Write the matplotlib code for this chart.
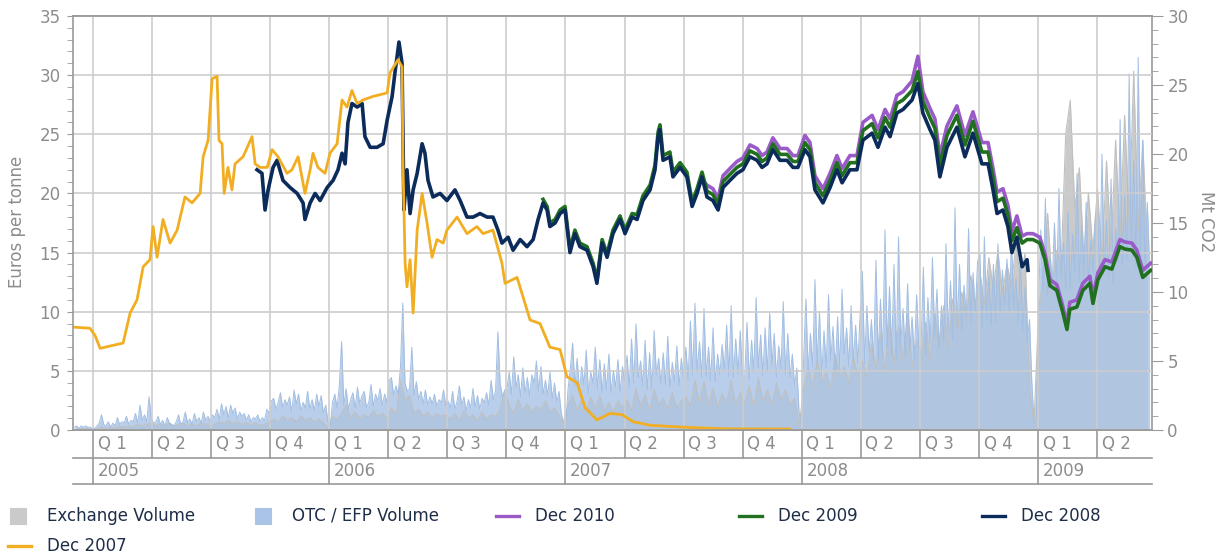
import matplotlib
matplotlib.use("Agg")
import matplotlib.pyplot as plt
from matplotlib.lines import Line2D
from matplotlib.patches import Rectangle
from matplotlib.ticker import MultipleLocator
import numpy as np
import pandas as pd

# ---- price curves: (time in decimal years, Euros per tonne) ----
dec2007 = [(2004.915, 8.7), (2004.987, 8.6), (2005.008, 8.0), (2005.030, 6.9), (2005.072, 7.1),
           (2005.127, 7.35), (2005.157, 9.9), (2005.186, 11.0), (2005.212, 13.8), (2005.241, 14.4),
           (2005.254, 17.2), (2005.271, 14.6), (2005.296, 17.8), (2005.326, 15.8), (2005.356, 16.9),
           (2005.389, 19.7), (2005.419, 19.2), (2005.453, 20.0), (2005.466, 23.1), (2005.487, 24.5),
           (2005.504, 29.7), (2005.525, 29.9), (2005.533, 24.5), (2005.546, 24.2), (2005.555, 20.0),
           (2005.571, 22.2), (2005.588, 20.3), (2005.601, 22.5), (2005.635, 23.1), (2005.673, 24.8),
           (2005.686, 22.5), (2005.707, 22.2), (2005.737, 22.2), (2005.758, 23.7), (2005.783, 23.1),
           (2005.821, 21.7), (2005.842, 22.0), (2005.868, 23.1), (2005.897, 20.0), (2005.919, 22.0),
           (2005.931, 23.4), (2005.952, 22.2), (2005.982, 21.7), (2006.003, 23.4), (2006.033, 24.2),
           (2006.054, 27.9), (2006.075, 27.3), (2006.096, 28.7), (2006.118, 27.6), (2006.143, 27.9),
           (2006.185, 28.2), (2006.245, 28.5), (2006.257, 30.2), (2006.291, 31.3), (2006.308, 30.7),
           (2006.312, 22.5), (2006.321, 14.1), (2006.329, 12.1), (2006.342, 14.4), (2006.355, 9.9),
           (2006.372, 16.9), (2006.393, 20.0), (2006.414, 17.5), (2006.435, 14.6), (2006.456, 16.1),
           (2006.482, 15.8), (2006.498, 16.9), (2006.541, 18.0), (2006.583, 16.6), (2006.625, 17.2),
           (2006.651, 16.6), (2006.693, 16.9), (2006.731, 14.1), (2006.744, 12.4), (2006.795, 12.9),
           (2006.850, 9.3), (2006.892, 9.0), (2006.934, 7.0), (2006.977, 6.8), (2007.006, 4.5),
           (2007.049, 4.0), (2007.083, 1.9), (2007.133, 0.85), (2007.188, 1.4), (2007.239, 1.3),
           (2007.286, 0.7), (2007.358, 0.4), (2007.442, 0.3), (2007.540, 0.2), (2007.684, 0.1),
           (2007.950, 0.08)]

dec2008 = [(2005.694, 22.0), (2005.715, 21.7), (2005.728, 18.6), (2005.741, 20.3), (2005.762, 22.2),
           (2005.779, 22.8), (2005.804, 21.1), (2005.834, 20.5), (2005.864, 20.0), (2005.889, 19.2),
           (2005.897, 17.8), (2005.919, 19.2), (2005.940, 20.0), (2005.961, 19.4), (2005.991, 20.5),
           (2006.016, 21.1), (2006.037, 22.0), (2006.054, 23.4), (2006.067, 22.5), (2006.079, 26.0),
           (2006.096, 27.6), (2006.118, 27.3), (2006.139, 27.6), (2006.151, 24.8), (2006.173, 23.9),
           (2006.202, 23.9), (2006.228, 24.2), (2006.245, 26.2), (2006.266, 28.2), (2006.278, 30.2),
           (2006.295, 32.8), (2006.308, 31.0), (2006.316, 18.6), (2006.329, 22.0), (2006.342, 18.3),
           (2006.355, 20.3), (2006.372, 21.7), (2006.393, 24.2), (2006.405, 23.4), (2006.418, 21.1),
           (2006.439, 19.7), (2006.469, 20.0), (2006.498, 19.4), (2006.532, 20.3), (2006.554, 19.4),
           (2006.583, 18.0), (2006.609, 18.0), (2006.638, 18.3), (2006.668, 18.0), (2006.693, 18.0),
           (2006.714, 16.9), (2006.731, 15.8), (2006.757, 16.3), (2006.778, 15.2), (2006.808, 16.1),
           (2006.837, 15.5), (2006.863, 16.1), (2006.884, 17.8), (2006.905, 19.2), (2006.922, 18.6),
           (2006.934, 17.2), (2006.956, 17.5), (2006.977, 18.3), (2006.998, 18.6), (2007.019, 15.0),
           (2007.040, 16.6), (2007.061, 15.5), (2007.091, 15.2), (2007.117, 13.8), (2007.133, 12.4),
           (2007.155, 15.8), (2007.176, 14.6), (2007.201, 16.6), (2007.231, 17.8), (2007.252, 16.6),
           (2007.282, 18.0), (2007.303, 17.8), (2007.328, 19.4), (2007.358, 20.3), (2007.379, 22.0),
           (2007.392, 24.8), (2007.400, 25.4), (2007.413, 22.8), (2007.442, 23.1), (2007.455, 21.4),
           (2007.485, 22.2), (2007.514, 21.4), (2007.536, 18.9), (2007.557, 20.0), (2007.578, 21.4),
           (2007.599, 19.7), (2007.624, 19.4), (2007.646, 18.6), (2007.667, 20.5), (2007.696, 21.1),
           (2007.726, 21.7), (2007.751, 22.0), (2007.781, 23.1), (2007.811, 22.8), (2007.832, 22.2),
           (2007.853, 22.5), (2007.878, 23.7), (2007.908, 22.8), (2007.938, 22.8), (2007.963, 22.2),
           (2007.984, 22.2), (2008.014, 23.7), (2008.035, 23.1), (2008.056, 20.3), (2008.090, 19.2),
           (2008.120, 20.5), (2008.149, 22.0), (2008.171, 20.9), (2008.204, 22.0), (2008.234, 22.0),
           (2008.259, 24.5), (2008.298, 25.1), (2008.323, 23.9), (2008.353, 25.6), (2008.374, 24.8),
           (2008.403, 26.8), (2008.429, 27.1), (2008.467, 27.9), (2008.492, 29.3), (2008.513, 26.8),
           (2008.543, 25.4), (2008.564, 24.5), (2008.585, 21.4), (2008.615, 23.9), (2008.657, 25.6),
           (2008.691, 23.1), (2008.725, 25.1), (2008.763, 22.5), (2008.789, 22.5), (2008.810, 20.3),
           (2008.827, 18.3), (2008.852, 18.6), (2008.873, 17.2), (2008.890, 15.0), (2008.911, 16.3),
           (2008.933, 13.8), (2008.954, 14.4), (2008.958, 13.5)]

dec2009 = [(2006.905, 19.5), (2006.922, 18.9), (2006.934, 17.5), (2006.956, 17.8), (2006.977, 18.6),
           (2006.998, 18.9), (2007.019, 15.3), (2007.040, 16.9), (2007.061, 15.8), (2007.091, 15.5),
           (2007.117, 14.1), (2007.133, 12.7), (2007.155, 16.1), (2007.176, 14.9), (2007.201, 16.9),
           (2007.231, 18.1), (2007.252, 16.9), (2007.282, 18.3), (2007.303, 18.2), (2007.328, 19.8),
           (2007.358, 20.7), (2007.379, 22.4), (2007.392, 25.2), (2007.400, 25.8), (2007.413, 23.2),
           (2007.442, 23.5), (2007.455, 21.8), (2007.485, 22.6), (2007.514, 21.8), (2007.536, 19.3),
           (2007.557, 20.4), (2007.578, 21.8), (2007.599, 20.2), (2007.624, 19.9), (2007.646, 19.1),
           (2007.667, 21.0), (2007.696, 21.6), (2007.726, 22.2), (2007.751, 22.5), (2007.781, 23.6),
           (2007.811, 23.3), (2007.832, 22.7), (2007.853, 23.0), (2007.878, 24.2), (2007.908, 23.3),
           (2007.938, 23.3), (2007.963, 22.7), (2007.984, 22.7), (2008.014, 24.3), (2008.035, 23.7),
           (2008.056, 20.9), (2008.090, 19.8), (2008.120, 21.1), (2008.149, 22.6), (2008.171, 21.5),
           (2008.204, 22.6), (2008.234, 22.6), (2008.259, 25.3), (2008.298, 25.9), (2008.323, 24.7),
           (2008.353, 26.4), (2008.374, 25.6), (2008.403, 27.6), (2008.429, 27.9), (2008.467, 28.7),
           (2008.492, 30.3), (2008.513, 27.8), (2008.543, 26.4), (2008.564, 25.5), (2008.585, 22.4),
           (2008.615, 24.9), (2008.657, 26.6), (2008.691, 24.1), (2008.725, 26.1), (2008.763, 23.5),
           (2008.789, 23.5), (2008.810, 21.3), (2008.827, 19.3), (2008.852, 19.6), (2008.873, 18.2),
           (2008.890, 16.0), (2008.911, 17.1), (2008.933, 15.8), (2008.954, 16.1), (2008.979, 16.1),
           (2009.008, 15.8), (2009.030, 14.4), (2009.051, 12.2), (2009.080, 11.8), (2009.106, 9.9),
           (2009.123, 8.5), (2009.135, 10.2), (2009.165, 10.4), (2009.190, 11.8), (2009.220, 12.4),
           (2009.233, 10.7), (2009.254, 12.7), (2009.284, 13.8), (2009.313, 13.6), (2009.347, 15.5),
           (2009.368, 15.3), (2009.398, 15.2), (2009.419, 14.6), (2009.444, 12.9), (2009.466, 13.3),
           (2009.478, 13.5)]

dec2010 = [(2007.590, 20.9), (2007.599, 20.7), (2007.624, 20.4), (2007.646, 19.6), (2007.667, 21.5),
           (2007.696, 22.1), (2007.726, 22.7), (2007.751, 23.0), (2007.781, 24.1), (2007.811, 23.8),
           (2007.832, 23.2), (2007.853, 23.5), (2007.878, 24.7), (2007.908, 23.8), (2007.938, 23.8),
           (2007.963, 23.2), (2007.984, 23.2), (2008.014, 24.9), (2008.035, 24.3), (2008.056, 21.5),
           (2008.090, 20.4), (2008.120, 21.7), (2008.149, 23.2), (2008.171, 22.1), (2008.204, 23.2),
           (2008.234, 23.2), (2008.259, 26.0), (2008.298, 26.6), (2008.323, 25.4), (2008.353, 27.1),
           (2008.374, 26.3), (2008.403, 28.3), (2008.429, 28.6), (2008.467, 29.5), (2008.492, 31.6),
           (2008.513, 28.6), (2008.543, 27.2), (2008.564, 26.3), (2008.585, 23.2), (2008.615, 25.7),
           (2008.657, 27.4), (2008.691, 24.9), (2008.725, 26.9), (2008.763, 24.3), (2008.789, 24.3),
           (2008.810, 22.1), (2008.827, 20.1), (2008.852, 20.4), (2008.873, 19.0), (2008.890, 16.8),
           (2008.911, 18.1), (2008.933, 16.4), (2008.954, 16.6), (2008.979, 16.6), (2009.008, 16.3),
           (2009.030, 14.9), (2009.051, 12.7), (2009.080, 12.3), (2009.106, 10.4), (2009.123, 9.0),
           (2009.135, 10.8), (2009.165, 11.0), (2009.190, 12.4), (2009.220, 13.0), (2009.233, 11.3),
           (2009.254, 13.3), (2009.284, 14.4), (2009.313, 14.2), (2009.347, 16.1), (2009.368, 15.9),
           (2009.398, 15.8), (2009.419, 15.2), (2009.444, 13.5), (2009.466, 13.9), (2009.478, 14.1)]

# ---- volumes (Mt CO2) ----
# OTC / EFP: twice a week from 3 Dec 2004, one block per quarter
otc_start = "2004-12-03"
otc_volume = (
    [0.2, 0.3, 0.1, 0.3, 0.2, 0.3, 0.2, 0.2, 0.1, 0.1]
    + [0.3, 0.5, 1.1, 0.4, 0.3, 0.6, 0.2, 0.5, 0.3, 0.9, 0.4, 0.6, 0.5, 1.0, 0.4, 0.7, 0.6, 1.2, 0.5, 1.8,
       0.7, 1.1, 0.6, 2.4, 0.8, 0.5]
    + [0.6, 1.0, 0.4, 0.7, 0.3, 0.9, 0.5, 0.4, 0.3, 0.6, 1.1, 0.4, 0.6, 1.3, 0.5, 0.8, 0.4, 1.2, 0.6, 0.9,
       0.5, 1.3, 0.7, 1.0, 0.6, 1.1]
    + [0.9, 1.5, 0.8, 1.9, 1.1, 1.7, 0.9, 1.8, 1.2, 1.6, 0.8, 1.3, 1.0, 1.2, 0.7, 1.1, 0.6, 0.9, 0.8, 1.1,
       0.6, 0.9, 0.7, 1.5, 1.2, 2.1]
    + [2.3, 1.5, 2.0, 2.7, 1.6, 2.2, 1.8, 2.4, 1.3, 2.9, 1.9, 2.6, 1.4, 2.0, 1.6, 2.8, 1.5, 2.2, 1.4, 2.6,
       1.7, 2.5, 1.2, 1.8, 0.6, 0.3]
    + [2.0, 2.6, 1.6, 3.2, 6.4, 1.8, 3.0, 1.5, 2.2, 2.7, 1.6, 3.1, 1.9, 2.5, 2.8, 1.6, 2.0, 3.3, 1.7, 2.6,
       2.1, 3.0, 1.8, 2.6, 2.0, 3.6]
    + [3.8, 2.5, 3.2, 2.6, 4.6, 9.2, 3.4, 2.8, 3.0, 6.0, 2.5, 3.5, 2.2, 2.8, 1.9, 2.9, 1.8, 2.4, 1.9, 2.6,
       1.7, 2.2, 2.0, 2.9, 1.8, 2.1]
    + [1.6, 2.8, 1.5, 2.1, 3.2, 1.8, 2.4, 1.4, 2.2, 1.6, 3.0, 1.7, 2.5, 1.5, 2.3, 2.0, 2.7, 1.8, 3.6, 2.2,
       2.9, 7.1, 3.4, 2.4, 2.9, 3.0]
    + [4.2, 2.6, 5.3, 3.1, 4.0, 2.4, 4.5, 2.7, 3.8, 2.5, 4.0, 3.4, 5.0, 2.8, 4.6, 2.6, 3.6, 2.5, 4.2, 2.3,
       3.4, 2.0, 2.8, 1.2, 0.6, 0.4]
    + [3.0, 4.5, 6.3, 3.2, 5.2, 2.8, 4.6, 3.3, 5.8, 2.6, 4.2, 3.4, 6.0, 3.0, 5.1, 2.7, 4.8, 2.9, 5.5, 2.7,
       4.3, 3.1, 5.1, 2.8, 4.6, 3.6]
    + [5.4, 3.1, 6.6, 3.4, 7.7, 3.8, 5.0, 3.2, 6.5, 2.9, 5.6, 3.0, 7.2, 4.0, 5.2, 3.3, 5.6, 3.3, 6.8, 3.1,
       4.9, 3.5, 6.1, 3.2, 5.2, 3.7]
    + [6.0, 3.6, 7.9, 4.0, 9.2, 4.2, 6.4, 3.8, 8.8, 3.9, 6.0, 3.6, 7.4, 3.5, 5.5, 4.0, 6.2, 4.4, 7.6, 3.9,
       9.0, 3.8, 6.6, 4.1, 7.2, 3.9]
    + [4.0, 7.8, 3.6, 6.5, 4.2, 9.6, 4.5, 6.9, 3.9, 7.4, 4.2, 8.5, 4.7, 7.0, 3.8, 6.1, 4.4, 9.3, 4.0, 7.0,
       3.8, 5.5, 3.2, 4.5, 1.2, 0.6]
    + [5.2, 9.5, 4.2, 7.0, 4.6, 10.9, 4.8, 8.6, 3.9, 7.2, 4.5, 9.8, 5.0, 7.5, 4.1, 8.2, 4.4, 10.2, 5.5, 7.4,
       4.6, 9.0, 5.0, 7.6, 4.8, 8.4]
    + [11.5, 4.8, 9.0, 5.6, 8.0, 5.0, 12.3, 5.1, 9.5, 5.4, 14.5, 6.0, 10.4, 5.5, 12.0, 5.2, 14.0, 6.2, 8.8,
       5.4, 10.6, 5.8, 8.2, 5.2, 9.8, 6.0]
    + [6.0, 11.8, 5.4, 9.6, 6.2, 12.5, 6.8, 10.2, 5.9, 9.0, 6.4, 13.5, 7.0, 10.8, 6.5, 16.1, 7.5, 12.0, 7.2,
       10.5, 8.2, 14.6, 7.8, 11.4, 8.6, 12.2]
    + [12.8, 7.4, 14.0, 8.0, 11.2, 7.6, 12.0, 7.8, 13.5, 8.4, 11.6, 9.0, 12.4, 8.5, 13.8, 8.8, 11.0, 7.9,
       12.6, 7.2, 10.4, 6.5, 8.0, 3.5, 0.5, 0.8]
    + [9.5, 14.5, 10.2, 16.8, 9.8, 12.5, 10.4, 15.0, 10.5, 17.5, 11.0, 13.6, 10.2, 15.8, 10.3, 14.2, 11.5,
       18.6, 10.8, 14.8, 11.2, 16.5, 10.6, 13.8, 11.4, 15.2]
    + [16.0, 10.8, 20.0, 11.5, 15.2, 11.0, 18.2, 10.6, 14.6, 12.2, 22.5, 12.0, 17.0, 12.4, 25.8, 13.0,
       19.5, 11.8, 27.0, 12.5, 21.0, 11.6, 16.5, 12.0]
)
# exchange: weekly from 3 Dec 2004
exch_start = "2004-12-03"
exchange_volume = (
    [0.0, 0.1, 0.1, 0.1, 0.0]
    + [0.1, 0.2, 0.1, 0.2, 0.1, 0.3, 0.2, 0.3, 0.2, 0.4, 0.3, 0.4, 0.5]
    + [0.3, 0.4, 0.3, 0.5, 0.3, 0.4, 0.5, 0.3, 0.4, 0.3, 0.5, 0.4, 0.3]
    + [0.4, 0.6, 0.5, 0.7, 0.5, 0.6, 0.4, 0.5, 0.4, 0.5, 0.3, 0.4, 0.6]
    + [0.8, 0.6, 1.0, 0.7, 0.9, 0.6, 1.0, 0.7, 0.9, 0.6, 0.8, 0.5, 0.2]
    + [1.0, 0.8, 1.2, 1.8, 0.9, 1.3, 0.8, 1.1, 0.9, 1.4, 1.0, 1.2, 0.9]
    + [1.6, 1.1, 3.5, 2.2, 2.5, 1.2, 1.5, 1.0, 1.3, 0.9, 1.2, 1.0, 1.1]
    + [0.8, 1.2, 0.7, 1.4, 0.9, 1.1, 0.7, 1.3, 0.8, 1.1, 1.0, 1.5, 2.8]
    + [1.8, 1.2, 2.2, 1.4, 1.9, 1.3, 1.7, 1.5, 2.1, 1.3, 1.6, 1.1, 0.4]
    + [1.9, 2.5, 1.4, 2.2, 1.3, 2.4, 1.5, 2.5, 1.4, 2.0, 1.3, 2.1, 1.6]
    + [2.2, 1.4, 3.0, 1.7, 2.6, 1.4, 2.9, 1.8, 2.3, 1.5, 2.7, 1.6, 2.1]
    + [2.4, 1.7, 3.6, 1.9, 3.5, 1.8, 3.0, 1.7, 2.6, 2.0, 3.6, 1.8, 2.7]
    + [1.9, 3.2, 1.7, 3.8, 2.1, 2.9, 1.8, 3.4, 2.2, 2.9, 1.8, 2.3, 0.3]
    + [3.0, 4.5, 3.2, 5.0, 3.5, 4.2, 3.0, 5.5, 3.8, 4.6, 3.4, 5.2, 4.0]
    + [5.0, 3.8, 6.2, 4.5, 7.0, 4.2, 8.0, 4.8, 7.5, 5.0, 8.5, 4.6, 6.5]
    + [5.5, 7.8, 5.0, 8.4, 6.2, 9.0, 6.0, 9.5, 7.2, 10.0, 8.0, 11.2, 9.0]
    + [11.5, 9.0, 12.5, 10.2, 13.0, 9.8, 12.0, 10.5, 13.5, 11.0, 12.8, 3.0, 0.6]
    + [8.5, 11.0, 15.7, 10.5, 13.0, 12.0, 21.5, 23.9, 16.0, 19.0, 12.5, 17.2, 13.0]
    + [17.5, 12.0, 19.5, 13.0, 21.0, 14.0, 22.8, 15.0, 26.0, 14.5, 21.0, 13.0]
)

years = ["2005", "2006", "2007", "2008", "2009"]
quarters = ["Q 1", "Q 2", "Q 3", "Q 4"]
n_quarters = 18  # Q1 2005 .. Q2 2009

# colours
c_exch = "#cacaca"
c_otc = "#a9c4e6"
c_2010 = "#9a5ac8"
c_2009 = "#21701f"
c_2008 = "#0b2b5a"
c_2007 = "#f2ae22"
c_axis = "#9a9a9a"
c_grid = "#cdcdcd"
c_tick = "#8c8c8c"
c_legend = "#1e2e48"


def decimal_year(dates):
    frac = (dates.dayofyear - 1 + dates.hour / 24) / np.where(dates.is_leap_year, 366, 365)
    return dates.year + frac


W, H = 1222, 555
fig = plt.figure(figsize=(W / 100, H / 100), dpi=100)
ax = fig.add_axes([73 / W, 1 - 430 / H, (1152 - 73) / W, 414 / H])
ax2 = ax.twinx()
ax.set_zorder(2)
ax.patch.set_visible(False)
ax2.set_zorder(1)

# volumes on the right axis
exch_t = decimal_year(pd.date_range(exch_start, periods=len(exchange_volume), freq="7D"))
otc_t = decimal_year(pd.date_range(otc_start, periods=len(otc_volume), freq="84h"))
ax2.fill_between(exch_t, exchange_volume, color=c_exch, lw=0)
ax2.plot(exch_t, exchange_volume, color="#c0c0c0", lw=0.8)
ax2.fill_between(otc_t, otc_volume, color=c_otc, alpha=0.82, lw=0)
ax2.plot(otc_t, otc_volume, color="#a2bee2", lw=0.7)

# prices on the left axis
for series, col, lw in [(dec2010, c_2010, 2.6), (dec2009, c_2009, 2.6),
                        (dec2008, c_2008, 2.6), (dec2007, c_2007, 2.0)]:
    t, v = zip(*series)
    ax.plot(t, v, color=col, lw=lw, solid_joinstyle="round")

x0, x1 = 2004.915, 2009.483
ax.set_xlim(x0, x1)
ax.set_ylim(0, 35)
ax2.set_ylim(0, 30)

q_starts = [2005 + 0.25 * i for i in range(n_quarters)]
ax.set_xticks(q_starts)
ax.tick_params(axis="x", length=0, labelbottom=False)
ax.yaxis.set_major_locator(MultipleLocator(5))
ax.yaxis.set_minor_locator(MultipleLocator(1))
ax.grid(True, which="major", color=c_grid, lw=1.2)
ax.tick_params(axis="y", which="both", direction="out", length=4, color=c_axis,
               labelcolor=c_tick, labelsize=12, pad=5)
ax2.yaxis.set_major_locator(MultipleLocator(5))
ax2.yaxis.set_minor_locator(MultipleLocator(1))
ax2.tick_params(axis="y", which="major", direction="out", length=8, color=c_axis,
                labelcolor=c_tick, labelsize=12, pad=3)
ax2.tick_params(axis="y", which="minor", direction="out", length=4, color=c_axis)

for a in (ax, ax2):
    for s in a.spines.values():
        s.set_color(c_axis)
        s.set_linewidth(1.2)
ax.spines["right"].set_visible(False)
ax2.spines["left"].set_visible(False)

fig.text(17 / W, 1 - 222 / H, "Euros per tonne", rotation=90, ha="center", va="center",
         fontsize=12, color=c_tick)
fig.text(1206 / W, 1 - 222 / H, "Mt CO2", rotation=270, ha="center", va="center",
         fontsize=12, color=c_tick)

# quarter / year cells below the plot
tr = ax.get_xaxis_transform()
q_row = -28 / 414
y_row = -54 / 414
lk = dict(color=c_axis, lw=1.2, transform=tr, clip_on=False)
ax.add_line(Line2D([x0, x1], [q_row, q_row], **lk))
ax.add_line(Line2D([x0, x1], [y_row, y_row], **lk))
for i, qs in enumerate(q_starts):
    ax.add_line(Line2D([qs, qs], [0, q_row], **lk))
    ax.text(qs + 0.02, q_row / 2, quarters[i % 4], transform=tr, ha="left", va="center",
            fontsize=12, color=c_tick, clip_on=False)
for i, yl in enumerate(years):
    ys = 2005 + i
    ax.add_line(Line2D([ys, ys], [q_row, y_row], **lk))
    ax.text(ys + 0.02, (q_row + y_row) / 2, yl, transform=tr, ha="left", va="center",
            fontsize=12, color=c_tick, clip_on=False)


# legend drawn by hand, positions in pixels
def fx(x):
    return x / W


def fy(y):
    return 1 - y / H


legend_items = [("box", c_exch, "Exchange Volume", 10, 516),
                ("box", c_otc, "OTC / EFP Volume", 255, 516),
                ("line", c_2010, "Dec 2010", 496, 516),
                ("line", c_2009, "Dec 2009", 739, 516),
                ("line", c_2008, "Dec 2008", 982, 516),
                ("line", c_2007, "Dec 2007", 8, 546)]
for kind, col, label, lx, ly in legend_items:
    if kind == "box":
        fig.patches.append(Rectangle((fx(lx), fy(ly + 8)), 16 / W, 16 / H, transform=fig.transFigure,
                                     facecolor=col, edgecolor=col, lw=0.8))
        tx = lx + 37
    else:
        fig.lines.append(Line2D([fx(lx), fx(lx + 23)], [fy(ly), fy(ly)], transform=fig.transFigure,
                                color=col, lw=2.4))
        tx = lx + 39
    fig.text(fx(tx), fy(ly), label, ha="left", va="center", fontsize=12, color=c_legend)

fig.savefig("out.png", dpi=100)
